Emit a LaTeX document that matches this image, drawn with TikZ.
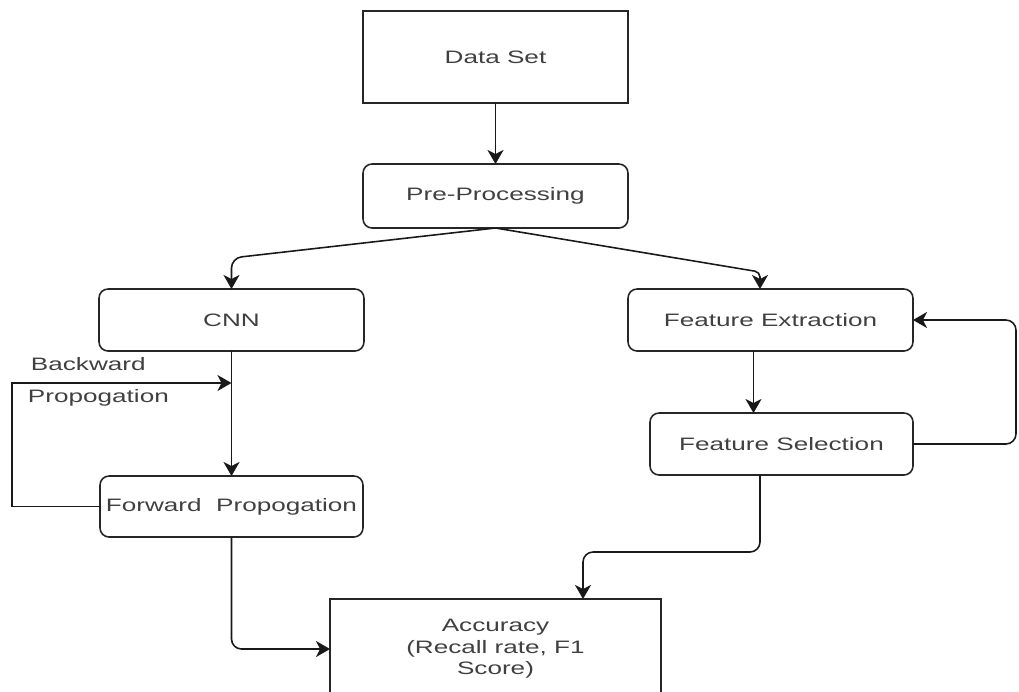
\documentclass[tikz,border=0pt]{standalone}
\usepackage{fontspec}
\setmainfont{Liberation Sans}[FakeStretch=1.45]
\usetikzlibrary{arrows.meta,calc}

\begin{document}
\begin{tikzpicture}[x=0.02cm,y=-0.02cm,
        every node/.style={font=\fontsize{10.25pt}{12.3pt}\selectfont,text=black!75,inner sep=0pt,outer sep=0pt},
        flow/.style={draw=black!90,line width=0.9pt,-{Stealth[length=0.28cm,width=0.32cm,inset=0.08cm]}}]
        \useasboundingbox (0,0) rectangle (1019,691);
        \clip (0,0) rectangle (1019,691);
        \begin{scope}[every node/.append style={draw=black!85,line width=0.9pt,minimum height=1.24cm}]
            \node (ds) [minimum width=5.3cm, minimum height=1.84cm] at (495.5,57) {Data Set};
            \node (pp) [rounded corners=0.18cm, minimum width=5.3cm, minimum height=1.28cm] at (495.5,196) {Pre-Processing};
            \node (cnn) [rounded corners=0.18cm, minimum width=5.3cm] at (231.5,320) {CNN};
            \node (fp) [rounded corners=0.18cm, minimum width=5.26cm, minimum height=1.22cm] at (231.5,506.5) {Forward\ \ Propogation};
            \node (fe) [rounded corners=0.18cm, minimum width=5.7cm] at (770.5,320) {Feature Extraction};
            \node (fs) [rounded corners=0.18cm, minimum width=5.26cm] at (781.5,444) {Feature Selection};
            \node (acc) [minimum width=6.62cm, minimum height=2cm, align=center] at (495.5,649) {Accuracy\\(Recall rate, F1\\Score)};
        \end{scope}
        \node (bw) [anchor=west] at (31,364) {Backward};
        \node (pr) [anchor=west] at (28,398) {Propogation};
        \coordinate (bk) at (231.5,383);
        \begin{scope}[every edge/.style={flow}]
            \path
                (ds) edge (pp)
                (cnn) edge (fp)
                ($(fe.south)+(-17,0)$) edge ($(fs.north)+(-28,0)$);
        \end{scope}
        \draw[flow, rounded corners=0.2cm] (pp.south) -- (231.5,258) -- (cnn.north);
        \draw[flow, rounded corners=0.1cm] (pp.south) -- (760,272) -- ($(fe.north)+(-10.5,0)$);
        \draw[flow] (fp.west) -| (12,383) -- (bk);
        \draw[flow, rounded corners=0.2cm] (fs.east) -| ($(fe.east)+(103,0)$) -- (fe.east);
        \draw[flow, rounded corners=0.2cm] ($(fs.south)+(-21.5,0)$) -- (760,552) -- (583,552) -- ($(acc.north)+(87.5,0)$);
        \draw[flow, rounded corners=0.2cm] (fp.south) |- (acc.west);
    \end{tikzpicture}
\end{document}
